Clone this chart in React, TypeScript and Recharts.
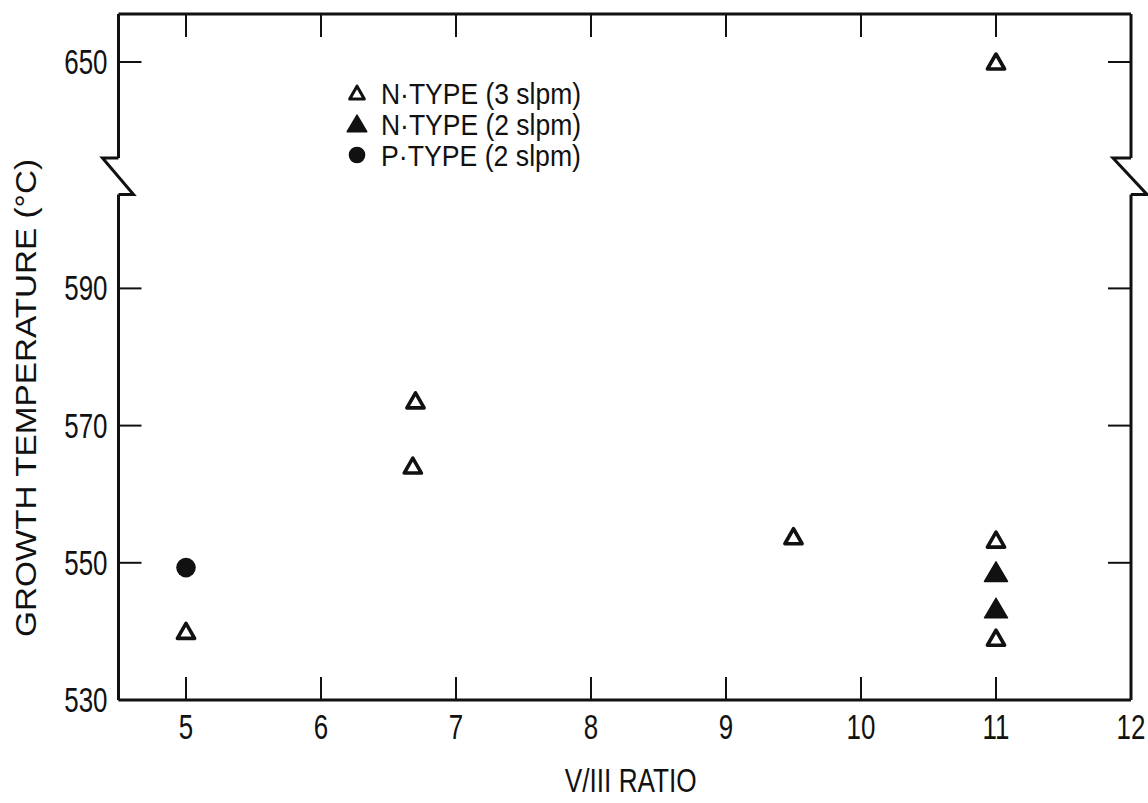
import React from 'react';
import {
  ScatterChart,
  Scatter,
  XAxis,
  YAxis,
  ReferenceArea,
  ReferenceLine,
  Legend,
  Label,
} from 'recharts';

// ---------- data ----------
const X_TICKS = [5, 6, 7, 8, 9, 10, 11, 12];
const Y_TICK_VALUES = [530, 550, 570, 590, 650];
const Y_TICK_LABELS = ['530', '550', '570', '590', '650'];

const N3_X = [5, 6.7, 6.68, 9.5, 11, 11, 11];
const N3_Y = [540, 573.6, 564.1, 553.8, 553.3, 539, 650];
const N2_X = [11, 11];
const N2_Y = [548.6, 543.3];
const P2_X = [5];
const P2_Y = [549.3];

const SERIES_NAMES = ['N·TYPE (3 slpm)', 'N·TYPE (2 slpm)', 'P·TYPE (2 slpm)'];
const X_TITLE = 'V/III RATIO';
const Y_TITLE = 'GROWTH TEMPERATURE (°C)';

// ---------- axis with a break ----------
const X_DOMAIN = [4.5, 12];
const Y_DOMAIN = [530, 630]; // displayed axis units
const BREAK_FROM = 603.7;
const BREAK_TO = 609;
const BREAK_SHIFT = 27; // values above the break are drawn this much lower
const toAxis = (v: number) => (v > BREAK_TO ? v - BREAK_SHIFT : v);
const Y_TICKS = Y_TICK_VALUES.map(toAxis);

const build = (xs: number[], ys: number[]) => xs.map((x, i) => ({ x, y: toAxis(ys[i]), value: ys[i] }));
const N3_DATA = build(N3_X, N3_Y);
const N2_DATA = build(N2_X, N2_Y);
const P2_DATA = build(P2_X, P2_Y);

// ---------- styles ----------
const INK = '#111';
const FONT = '"Liberation Sans", Arial, Helvetica, sans-serif';

const openTri = (cx: number, cy: number, s = 1, key?: any) => (
  <path
    key={key}
    d={`M${cx},${cy - 8 * s} L${cx + 8.6 * s},${cy + 7 * s} L${cx - 8.6 * s},${cy + 7 * s} Z`}
    fill="#fff"
    stroke={INK}
    strokeWidth={3.6 * s}
    strokeLinejoin="round"
  />
);
const fillTri = (cx: number, cy: number, s = 1, key?: any) => (
  <path
    key={key}
    d={`M${cx},${cy - 10.5 * s} L${cx + 11.5 * s},${cy + 9 * s} L${cx - 11.5 * s},${cy + 9 * s} Z`}
    fill={INK}
    stroke={INK}
    strokeWidth={1.5}
    strokeLinejoin="round"
  />
);
const dot = (cx: number, cy: number, s = 1, key?: any) => (
  <circle key={key} cx={cx} cy={cy} r={9.8 * s} fill={INK} />
);
const MARKERS = [openTri, fillTri, dot];

const XTick = (props: any) => {
  const { x, y, payload } = props;
  return (
    <g transform={`translate(${x},${y})`}>
      <text transform="scale(0.72,1)" textAnchor="middle" dy={26} fontSize={36} fill={INK} fontFamily={FONT}>
        {payload.value}
      </text>
    </g>
  );
};
const YTick = (props: any) => {
  const { x, y, payload } = props;
  const idx = Y_TICKS.indexOf(payload.value);
  return (
    <g transform={`translate(${x},${y})`}>
      <text transform="scale(0.72,1)" textAnchor="end" dy={12} fontSize={36} fill={INK} fontFamily={FONT}>
        {idx >= 0 ? Y_TICK_LABELS[idx] : payload.value}
      </text>
    </g>
  );
};
const NoTick = () => <g />;

const BreakShape = (props: any) => {
  const { x, y, width, height } = props;
  const l = `M${x},${y} H${x - 16} L${x + 15},${y + height} H${x}`;
  const r = `M${x + width},${y} H${x + width - 18} L${x + width + 16},${y + height} H${x + width}`;
  return (
    <g>
      <path d={l} fill="none" stroke={INK} strokeWidth={3} strokeLinejoin="miter" />
      <path d={r} fill="none" stroke={INK} strokeWidth={3} strokeLinejoin="miter" />
    </g>
  );
};

const LegendContent = () => (
  <svg width={270} height={110} style={{ display: 'block' }}>
    {SERIES_NAMES.map((name, i) => {
      const cy = 25 + i * 31;
      return (
        <g key={name}>
          {MARKERS[i](19, cy, 0.85)}
          <text
            x={43}
            y={cy + 10.5}
            fontSize={29}
            fontFamily={FONT}
            fill={INK}
            textLength={200}
            lengthAdjust="spacingAndGlyphs"
          >
            {name}
          </text>
        </g>
      );
    })}
  </svg>
);

const XTitle = (props: any) => {
  const vb = props.viewBox || {};
  return (
    <text
      x={vb.x + vb.width / 2 + 6}
      y={vb.y + 92}
      textAnchor="middle"
      fontSize={34}
      fontFamily={FONT}
      fill={INK}
      textLength={132}
      lengthAdjust="spacingAndGlyphs"
    >
      {X_TITLE}
    </text>
  );
};
const YTitle = (props: any) => {
  const vb = props.viewBox || {};
  const cx = vb.x + 6.5;
  const cy = vb.y + 384;
  return (
    <text
      x={cx}
      y={cy}
      dy={10.5}
      transform={`rotate(-90, ${cx}, ${cy})`}
      textAnchor="middle"
      fontSize={30}
      fontFamily={FONT}
      fill={INK}
      textLength={478}
      lengthAdjust="spacingAndGlyphs"
    >
      {Y_TITLE}
    </text>
  );
};

const axisLine = { stroke: INK, strokeWidth: 3 };
const tickLine = { stroke: INK, strokeWidth: 2 };

export default function App() {
  return (
    <div style={{ position: 'absolute', left: 0, top: 0, width: 1148, height: 803, background: '#fff' }}>
      <ScatterChart width={1148} height={803} margin={{ top: 13, right: 7, bottom: 43, left: 18.5 }}>
        <XAxis
          xAxisId="bottom"
          type="number"
          dataKey="x"
          domain={X_DOMAIN}
          ticks={X_TICKS}
          interval={0}
          allowDataOverflow
          height={60}
          axisLine={axisLine}
          tickLine={tickLine}
          tickSize={-23}
          tickMargin={36}
          tick={<XTick />}
        >
          <Label content={<XTitle />} />
        </XAxis>
        <XAxis
          xAxisId="top"
          orientation="top"
          type="number"
          dataKey="x"
          domain={X_DOMAIN}
          ticks={X_TICKS.slice(0, -1)}
          interval={0}
          allowDataOverflow
          height={1}
          axisLine={axisLine}
          tickLine={tickLine}
          tickSize={-23}
          tick={<NoTick />}
        />
        <YAxis
          yAxisId="left"
          type="number"
          dataKey="y"
          domain={Y_DOMAIN}
          ticks={Y_TICKS}
          interval={0}
          allowDataOverflow
          width={100}
          axisLine={false}
          tickLine={tickLine}
          tickSize={-23}
          tickMargin={34}
          tick={<YTick />}
        >
          <Label content={<YTitle />} />
        </YAxis>
        <YAxis
          yAxisId="right"
          orientation="right"
          type="number"
          dataKey="y"
          domain={Y_DOMAIN}
          ticks={Y_TICKS}
          interval={0}
          allowDataOverflow
          width={10}
          axisLine={false}
          tickLine={tickLine}
          tickSize={-23}
          tick={<NoTick />}
        />

        {/* frame verticals, interrupted by the axis break */}
        <ReferenceLine xAxisId="bottom" yAxisId="left" ifOverflow="visible" stroke={INK} strokeWidth={3}
          segment={[{ x: X_DOMAIN[0], y: Y_DOMAIN[0] }, { x: X_DOMAIN[0], y: BREAK_FROM }]} />
        <ReferenceLine xAxisId="bottom" yAxisId="left" ifOverflow="visible" stroke={INK} strokeWidth={3}
          segment={[{ x: X_DOMAIN[0], y: BREAK_TO }, { x: X_DOMAIN[0], y: Y_DOMAIN[1] }]} />
        <ReferenceLine xAxisId="bottom" yAxisId="left" ifOverflow="visible" stroke={INK} strokeWidth={3}
          segment={[{ x: X_DOMAIN[1], y: Y_DOMAIN[0] }, { x: X_DOMAIN[1], y: BREAK_FROM }]} />
        <ReferenceLine xAxisId="bottom" yAxisId="left" ifOverflow="visible" stroke={INK} strokeWidth={3}
          segment={[{ x: X_DOMAIN[1], y: BREAK_TO }, { x: X_DOMAIN[1], y: Y_DOMAIN[1] }]} />
        <ReferenceArea
          xAxisId="bottom"
          yAxisId="left"
          x1={X_DOMAIN[0]}
          x2={X_DOMAIN[1]}
          y1={BREAK_FROM}
          y2={BREAK_TO}
          ifOverflow="visible"
          shape={<BreakShape />}
        />

        <Scatter
          name={SERIES_NAMES[0]}
          xAxisId="bottom"
          yAxisId="left"
          data={N3_DATA}
          isAnimationActive={false}
          shape={(p: any) => openTri(p.cx, p.cy)}
        />
        <Scatter
          name={SERIES_NAMES[1]}
          xAxisId="bottom"
          yAxisId="left"
          data={N2_DATA}
          isAnimationActive={false}
          shape={(p: any) => fillTri(p.cx, p.cy)}
        />
        <Scatter
          name={SERIES_NAMES[2]}
          xAxisId="bottom"
          yAxisId="left"
          data={P2_DATA}
          isAnimationActive={false}
          shape={(p: any) => dot(p.cx, p.cy)}
        />

        <Legend
          layout="vertical"
          align="center"
          verticalAlign="middle"
          content={<LegendContent />}
          wrapperStyle={{ left: 338, top: 68, width: 270, height: 110 }}
        />
      </ScatterChart>
    </div>
  );
}
